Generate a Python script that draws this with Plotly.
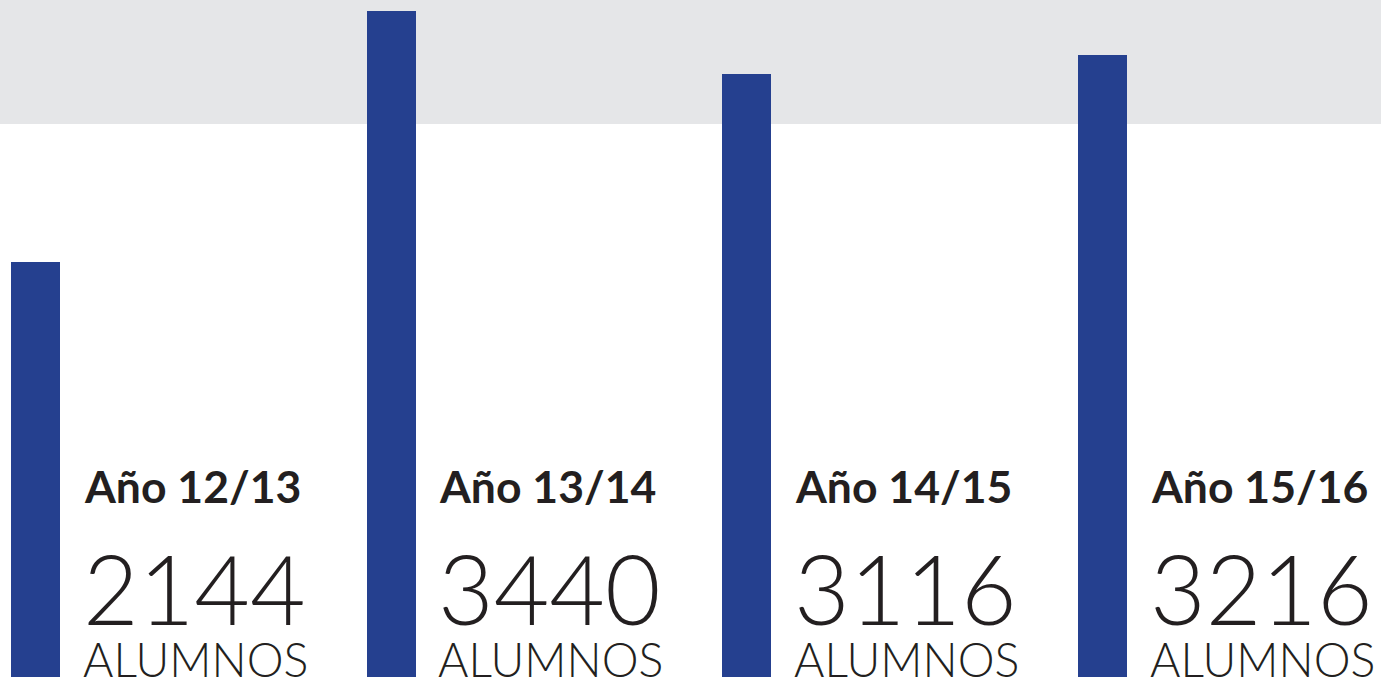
import plotly.graph_objects as go

years = ["Año 12/13", "Año 13/14", "Año 14/15", "Año 15/16"]
alumnos = [2144, 3440, 3116, 3216]
unit_label = "ALUMNOS"

BLUE = "#25408F"
GRAY = "#E5E6E8"
TEXT = "#231F20"

x_pos = list(range(len(years)))

fig = go.Figure()
fig.add_trace(go.Bar(
    x=x_pos, y=alumnos, width=0.138,
    marker=dict(color=BLUE, line=dict(width=0)),
    hoverinfo="skip", showlegend=False,
))

fig.add_shape(type="rect", xref="paper", yref="paper", x0=0, x1=1,
              y0=0.8168, y1=1, fillcolor=GRAY, line=dict(width=0), layer="below")

for i, (yr, v) in enumerate(zip(years, alumnos)):
    fig.add_annotation(x=i, xref="x", y=0.2836, yref="paper", text=yr,
                       showarrow=False, xanchor="left", yanchor="middle", xshift=46,
                       font=dict(family="Lato", size=44.5, color=TEXT, weight=700))
    fig.add_annotation(x=i, xref="x", y=0.1322, yref="paper", text=str(v),
                       showarrow=False, xanchor="left", yanchor="middle", xshift=45,
                       font=dict(family="Lato", size=96, color=TEXT, weight=300))
    fig.add_annotation(x=i, xref="x", y=0.0266, yref="paper", text=unit_label,
                       showarrow=False, xanchor="left", yanchor="middle", xshift=45,
                       font=dict(family="Lato", size=46.5, color=TEXT, weight=300))

fig.update_layout(
    width=1381, height=677,
    margin=dict(l=0, r=0, t=0, b=0),
    paper_bgcolor="white", plot_bgcolor="white",
    xaxis=dict(range=[-0.0998, 3.7827], visible=False, fixedrange=True),
    yaxis=dict(range=[0, 3498], visible=False, fixedrange=True),
    bargap=0,
)

fig.write_html("out.html", config={"displayModeBar": False},
               post_script="document.body.style.margin='0';document.body.style.overflow='hidden';")
